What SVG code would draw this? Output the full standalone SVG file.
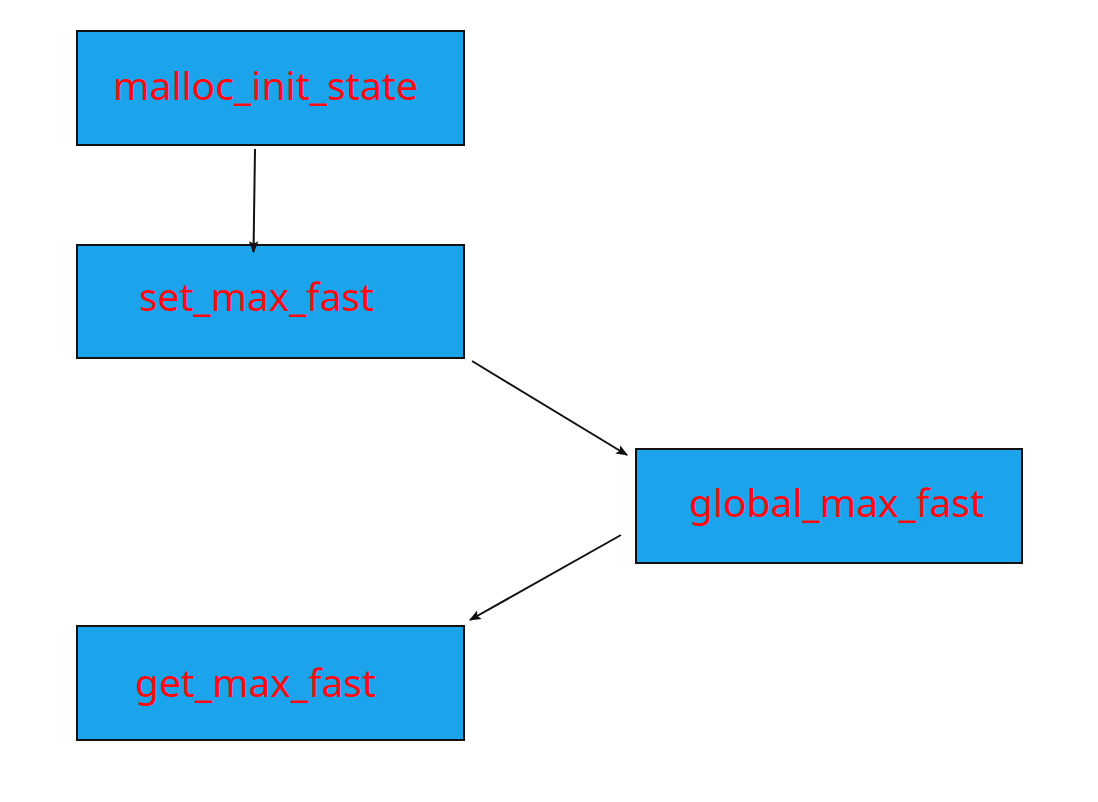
<svg xmlns="http://www.w3.org/2000/svg" width="1098" height="802" viewBox="0 0 1098 802">
<style>
.box{fill:#1ba4ec;stroke:#111;stroke-width:2}
.lbl{fill:#ff0a10;font-family:"Noto Sans","Open Sans",sans-serif;font-size:38px}
.con{stroke:#111;stroke-width:2;fill:none;marker-end:url(#ah)}
</style>
<defs>
<marker id="ah" viewBox="0 0 10 10" refX="9" refY="5" markerWidth="6" markerHeight="6" orient="auto" markerUnits="strokeWidth">
<path d="M0,1 L10,5 L0,9 L2,5 z" fill="#111"/>
</marker>
</defs>
<rect width="1098" height="802" fill="#fff"/>
<g id="n1"><rect class="box" x="77" y="31" width="387" height="114"/><text class="lbl" x="113" y="100" textLength="305" lengthAdjust="spacingAndGlyphs">malloc_init_state</text></g>
<g id="n2"><rect class="box" x="77" y="245" width="387" height="113"/><text class="lbl" x="139" y="311" textLength="235" lengthAdjust="spacingAndGlyphs">set_max_fast</text></g>
<g id="n3"><rect class="box" x="636" y="449" width="386" height="114"/><text class="lbl" x="689" y="517" textLength="295" lengthAdjust="spacingAndGlyphs">global_max_fast</text></g>
<g id="n4"><rect class="box" x="77" y="626" width="387" height="114"/><text class="lbl" x="135" y="697" textLength="241" lengthAdjust="spacingAndGlyphs">get_max_fast</text></g>
<g id="connectors">
<line class="con" x1="255" y1="149" x2="253.5" y2="252"/>
<line class="con" x1="472" y1="361" x2="627" y2="455"/>
<line class="con" x1="621" y1="535" x2="470" y2="620"/>
</g>
</svg>
